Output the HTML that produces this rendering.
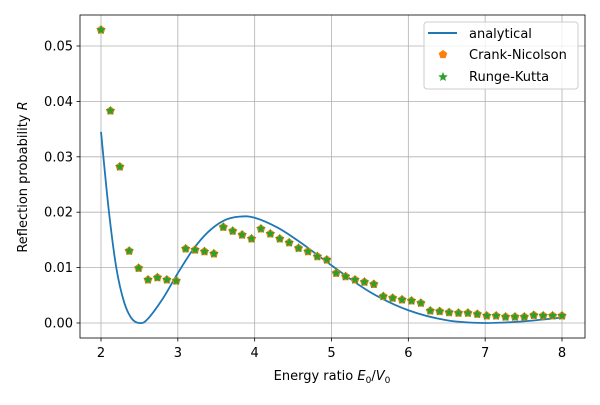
<!DOCTYPE html>
<html><head><meta charset="utf-8"><style>
body{margin:0;background:#fff}
svg text{font-family:"DejaVu Sans","Liberation Sans",sans-serif;font-size:13px;fill:#000}
</style></head><body>
<svg id="chart" width="600" height="400" xmlns="http://www.w3.org/2000/svg">
<g id="grid"></g>
<g id="series"></g>
<rect x="80" y="15" width="505" height="323" fill="none" stroke="#000" stroke-width="0.8"/>
<g id="ticks"></g>
<text x="332" y="380" text-anchor="middle">Energy ratio <tspan font-style="italic">E</tspan><tspan font-size="9" dy="3">0</tspan><tspan dy="-3">/</tspan><tspan font-style="italic">V</tspan><tspan font-size="9" dy="3">0</tspan></text>
<text transform="translate(27,177) rotate(-90)" text-anchor="middle">Reflection probability <tspan font-style="italic">R</tspan></text>
<g>
<rect x="424" y="22" width="154" height="67" rx="3" fill="#fff" fill-opacity="0.8" stroke="#ccc" stroke-width="1"/>
<line x1="428" y1="33" x2="457" y2="33" stroke="#1f77b4" stroke-width="2"/>
<text x="469" y="38">analytical</text>
<polygon points="443,50 447.3,53.1 445.6,58.1 440.4,58.1 438.7,53.1" fill="#ff7f0e"/>
<text x="469" y="59">Crank-Nicolson</text>
<polygon id="legstar" fill="#2ca02c"/>
<text x="469" y="81">Runge-Kutta</text>
</g>
</svg>
<script>
const xTicks=[2,3,4,5,6,7,8];
const yTicks=[0,0.01,0.02,0.03,0.04,0.05];
const yTickLabels=["0.00","0.01","0.02","0.03","0.04","0.05"];
const energies=[];for(let i=0;i<50;i++)energies.push(2+i*6/49);
const crankNicolson=[0.0529,0.0383,0.0282,0.0130,0.0099,0.0078,0.0082,0.0078,0.0076,0.0134,0.0132,0.0129,0.0125,0.0173,0.0166,0.0159,0.0152,0.0170,0.0161,0.0152,0.0145,0.0135,0.0129,0.0120,0.0114,0.0090,0.0084,0.0078,0.0074,0.0070,0.0048,0.0045,0.0042,0.0040,0.0036,0.0022,0.0021,0.0019,0.0018,0.0018,0.0016,0.0013,0.0013,0.0011,0.0011,0.0011,0.0014,0.0013,0.0013,0.0013];
const rungeKutta=crankNicolson.slice();
const anaE=[2,2.1,2.2,2.3,2.4,2.5,2.6,2.8,3.0,3.2,3.4,3.6,3.8,4.0,4.3,4.6,5.0,5.5,6.0,6.5,7.0,7.5,8.0];
const anaR=[0.0345,0.0205,0.0099,0.0038,0.0008,0,0.0006,0.0043,0.0090,0.0133,0.0165,0.0185,0.0192,0.0190,0.0172,0.0145,0.0104,0.0056,0.0023,0.0005,0,0.0003,0.0010];
const X=v=>101+(v-2)*(461/6);
const Y=v=>323-v*5540;
const NS="http://www.w3.org/2000/svg";
function mk(t,a,p){const e=document.createElementNS(NS,t);for(const k in a)e.setAttribute(k,a[k]);p.appendChild(e);return e;}
const grid=document.getElementById('grid'),ticks=document.getElementById('ticks'),ser=document.getElementById('series');
xTicks.forEach(t=>{
 const g=mk('line',{x1:X(t),x2:X(t),y1:15,y2:338,stroke:'#b0b0b0','stroke-width':0.8},grid);
 
 
 mk('line',{x1:X(t),x2:X(t),y1:338,y2:341.5,stroke:'#000','stroke-width':0.8},ticks);
 const l=mk('text',{x:X(t),y:357,'text-anchor':'middle'},ticks);l.textContent=t;
 
 
});
yTicks.forEach((t,i)=>{
 const g=mk('line',{x1:80,x2:585,y1:Y(t),y2:Y(t),stroke:'#b0b0b0','stroke-width':0.8},grid);
 
 
 mk('line',{x1:76.5,x2:80,y1:Y(t),y2:Y(t),stroke:'#000','stroke-width':0.8},ticks);
 const l=mk('text',{x:73,y:Y(t)+4.5,'text-anchor':'end'},ticks);l.textContent=yTickLabels[i];
 
 
});
const P=anaE.map((e,i)=>[X(e),Y(anaR[i])]);
let d='M'+P[0][0]+','+P[0][1];
for(let i=0;i<P.length-1;i++){
 const p0=P[Math.max(0,i-1)],p1=P[i],p2=P[i+1],p3=P[Math.min(P.length-1,i+2)];
 const c1=[p1[0]+(p2[0]-p0[0])/6,p1[1]+(p2[1]-p0[1])/6],c2=[p2[0]-(p3[0]-p1[0])/6,p2[1]-(p3[1]-p1[1])/6];
 d+=` C${c1[0]},${c1[1]} ${c2[0]},${c2[1]} ${p2[0]},${p2[1]}`;
}
const line=mk('path',{d:d,fill:'none',stroke:'#1f77b4','stroke-width':1.8},ser);


function pent(cx,cy,r){let s=[];for(let k=0;k<5;k++){const a=-Math.PI/2+k*2*Math.PI/5;s.push((cx+r*Math.cos(a)).toFixed(2)+','+(cy+r*Math.sin(a)).toFixed(2));}return s.join(' ');}
function star(cx,cy,r){let s=[];for(let k=0;k<10;k++){const a=-Math.PI/2+k*Math.PI/5,rr=k%2?r*0.45:r;s.push((cx+rr*Math.cos(a)).toFixed(2)+','+(cy+rr*Math.sin(a)).toFixed(2));}return s.join(' ');}
energies.forEach((e,i)=>{
 const p=mk('polygon',{points:pent(X(e),Y(crankNicolson[i]),4.6),fill:'#ff7f0e'},ser);
 
 
});
energies.forEach((e,i)=>{
 const p=mk('polygon',{points:star(X(e),Y(rungeKutta[i]),5),fill:'#2ca02c'},ser);
 
 
});
document.getElementById('legstar').setAttribute('points',star(443,77,5));
</script>
</body></html>
